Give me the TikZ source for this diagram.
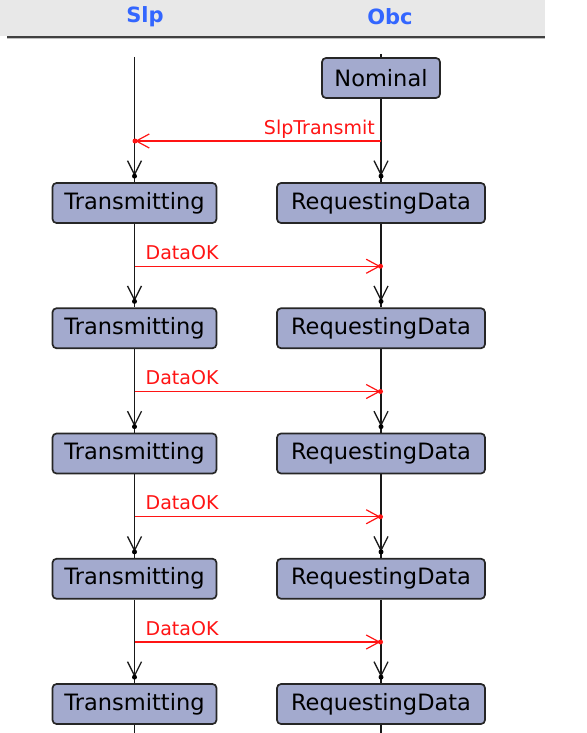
\documentclass[tikz,border=0pt]{standalone}
\usepackage{fontspec}
\setmainfont{DejaVu Sans}
\usetikzlibrary{arrows.meta,decorations.markings}
\definecolor{boxfill}{RGB}{163,170,206}
\definecolor{hdrblue}{RGB}{51,102,255}
\definecolor{hdrgray}{RGB}{232,232,232}
\definecolor{msgred}{RGB}{255,20,20}
\begin{document}
\begin{tikzpicture}[x=1pt,y=-1pt,
  state/.style={draw=black!85, line width=1.7pt, fill=boxfill, rounded corners=4pt,
    minimum height=40pt, inner sep=0pt, font=\fontsize{22.5}{24}\selectfont, text=black},
  trans/.style={state, minimum width=164pt},
  req/.style={state, minimum width=208pt},
  nomstate/.style={state, minimum width=118pt},
  life/.style={draw=black!90, line width=1.6pt},
  flow/.style={life, postaction={decorate}, decoration={markings,
    mark=at position -6pt with {\arrow[line width=1.3pt]{Straight Barb[length=14pt,width=14pt]}; \fill[black] (0,0) circle (2.5pt);}}},
  msg/.style={draw=msgred, line width=1.4pt, postaction={decorate}, decoration={markings,
    mark=at position -0.5pt with {\arrow[line width=1.2pt,msgred]{Straight Barb[length=13pt,width=14pt]}; \fill[msgred] (0,0) circle (2.5pt);}}},
  lbl/.style={text=msgred, font=\fontsize{19}{21}\selectfont, inner sep=0pt},
  hdr/.style={text=hdrblue, font=\fontsize{21}{23}\selectfont\bfseries, inner sep=0pt}
]
\useasboundingbox (0,0) rectangle (586,733);
% header band
\fill[hdrgray] (0,0) rectangle (545,36);
\draw[black!75, line width=2pt] (7,37) -- (545,37);
\draw[black!25, line width=1pt] (7,39) -- (545,39);
\node[hdr] (hslp) at (145,17) {Slp};
\node[hdr] (hobc) at (390,17) {Obc};

% states
\node[nomstate] (nom) at (381,78) {Nominal};
\foreach \i in {1,...,5} {
  \pgfmathsetmacro\yy{203+125.25*(\i-1)}
  \node[trans] (t\i) at (134.5,\yy) {Transmitting};
  \node[req] (r\i) at (381,\yy) {RequestingData};
}

% lifelines
\coordinate (slptop) at (134.5,57);
\coordinate (slpbot) at (134.5,733);
\coordinate (obctop) at (381,54);
\coordinate (obcbot) at (381,733);
\draw[flow] (slptop) -- (t1.north);
\draw[life] (obctop) -- (nom.north);
\draw[flow] (nom.south) -- (r1.north);
\foreach \i [evaluate=\i as \j using int(\i+1)] in {1,...,4} {
  \draw[flow] (t\i.south) -- (t\j.north);
  \draw[flow] (r\i.south) -- (r\j.north);
}
\draw[life] (t5.south) -- (slpbot);
\draw[life] (r5.south) -- (obcbot);

% messages
\coordinate (o0) at (381,141);
\coordinate (s0) at (134.5,141);
\draw[msg] (o0) -- (s0);
\node[lbl, anchor=base east] (l0) at ([xshift=-6pt,yshift=6pt]o0) {SlpTransmit};
\foreach \i in {1,...,4} {
  \pgfmathsetmacro\my{141+125.25*\i}
  \coordinate (s\i) at (134.5,\my);
  \coordinate (o\i) at (381,\my);
  \draw[msg] (s\i) -- (o\i);
  \node[lbl, anchor=base west] (l\i) at ([xshift=11pt,yshift=7pt]s\i) {DataOK};
}
\end{tikzpicture}
\end{document}
